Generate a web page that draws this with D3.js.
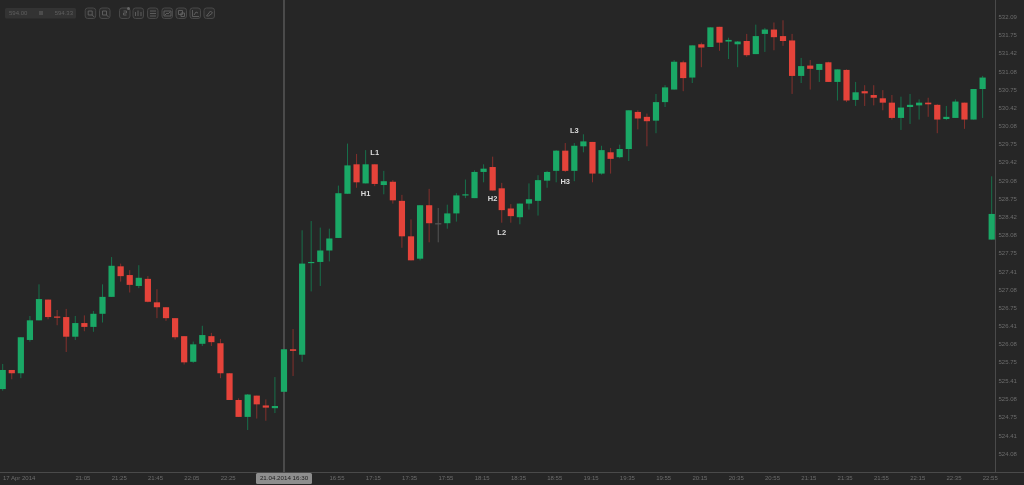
<!DOCTYPE html>
<html><head><meta charset="utf-8">
<style>
html,body{margin:0;padding:0;background:#262626;overflow:hidden}
svg{display:block;filter:blur(0.4px)}
text{font-family:"Liberation Sans",Arial,sans-serif}
</style>
<script src="https://cdn.jsdelivr.net/npm/d3@7"></script>
</head><body><svg id="c" width="1024" height="485"></svg>
<script>
const openP=[525.27,525.62,525.56,526.17,526.53,526.91,526.60,526.59,526.23,526.48,526.41,526.65,526.96,527.52,527.36,527.16,527.29,526.86,526.77,526.57,526.24,525.77,526.10,526.24,526.11,525.56,525.07,524.76,525.15,524.97,524.92,525.22,526.00,525.90,527.58,527.60,527.81,528.04,528.85,529.39,529.04,529.39,529.01,529.07,528.72,528.07,527.66,528.64,528.31,528.31,528.49,528.82,528.77,529.25,529.34,528.95,528.58,528.42,528.67,528.72,529.09,529.27,529.64,529.27,529.72,529.80,529.22,529.61,529.52,529.67,530.35,530.26,530.19,530.53,530.76,531.26,530.98,531.59,531.54,531.91,531.64,531.59,531.65,531.41,531.78,531.86,531.74,531.66,531.01,531.20,531.12,531.26,530.90,531.12,530.57,530.73,530.66,530.60,530.52,530.24,530.44,530.47,530.52,530.48,530.22,530.24,530.52,530.21,530.77,528.01];
const closeP=[525.62,525.56,526.22,526.53,526.92,526.59,526.59,526.23,526.48,526.41,526.65,526.96,527.53,527.34,527.18,527.31,526.87,526.77,526.57,526.22,525.76,526.09,526.26,526.13,525.56,525.07,524.76,525.17,524.99,524.93,524.96,526.00,525.97,527.57,527.60,527.81,528.03,528.86,529.37,529.06,529.39,529.03,529.08,528.73,528.07,527.63,528.64,528.31,528.31,528.49,528.82,528.84,529.25,529.31,528.91,528.55,528.44,528.67,528.75,529.10,529.25,529.64,529.27,529.73,529.81,529.22,529.65,529.49,529.67,530.38,530.23,530.18,530.53,530.80,531.27,530.97,531.57,531.53,531.90,531.62,531.67,531.64,531.39,531.74,531.86,531.72,531.65,531.01,531.19,531.14,531.23,530.90,531.13,530.56,530.71,530.69,530.61,530.52,530.24,530.43,530.48,530.52,530.49,530.21,530.26,530.54,530.21,530.77,530.98,528.48];
const highP=[525.73,525.62,526.22,526.61,527.19,526.91,526.72,526.74,526.61,526.62,526.70,527.19,527.69,527.57,527.45,527.54,527.34,527.10,526.77,526.57,526.24,526.14,526.43,526.30,526.19,525.56,525.10,525.18,525.15,525.08,525.49,526.00,526.37,528.18,528.35,528.23,528.21,529.00,529.77,529.58,529.65,529.39,529.27,529.10,528.83,528.38,528.64,528.94,528.59,528.65,528.86,529.11,529.28,529.39,529.53,529.05,528.66,528.67,529.04,529.19,529.27,529.65,529.78,529.78,529.94,529.80,529.73,529.69,529.75,530.38,530.38,530.32,530.68,530.84,531.30,531.29,531.57,531.62,531.90,531.91,531.71,531.65,531.78,531.95,531.89,531.99,532.03,531.78,531.34,531.30,531.23,531.27,531.13,531.13,530.90,530.84,530.84,530.75,530.66,530.63,530.68,530.58,530.61,530.49,530.46,530.58,530.52,530.77,531.01,529.17];
const lowP=[525.24,525.45,525.47,526.14,526.53,526.55,526.44,525.95,526.17,526.33,526.32,526.49,526.96,527.24,527.04,527.12,526.86,526.57,526.52,526.18,525.72,525.75,526.06,526.06,525.47,525.07,524.76,524.52,524.73,524.69,524.83,525.22,525.51,525.77,527.06,527.16,527.61,528.04,528.85,528.96,529.04,528.99,528.84,528.67,527.86,527.63,527.63,527.96,527.96,528.21,528.34,528.77,528.77,529.06,528.91,528.32,528.32,528.29,528.56,528.45,528.96,529.06,529.25,529.08,529.61,529.06,529.20,529.22,529.50,529.45,530.03,529.72,529.96,530.44,530.76,530.73,530.88,531.17,531.54,531.47,531.32,531.17,531.36,531.41,531.45,531.48,531.56,530.68,530.88,530.76,530.90,530.90,530.56,530.53,530.46,530.46,530.47,530.38,530.21,530.02,530.13,530.21,530.26,529.96,530.20,530.24,530.04,530.21,530.24,528.01];
const priceTicks=["532.09","531.75","531.42","531.08","530.75","530.42","530.08","529.75","529.42","529.08","528.75","528.42","528.08","527.75","527.41","527.08","526.75","526.41","526.08","525.75","525.41","525.08","524.75","524.41","524.08"];
const timeTickIndex=[9,13,17,21,25,37,41,45,49,53,57,61,65,69,73,77,81,85,89,93,97,101,105,109];
const timeTickLabel=["21:05","21:25","21:45","22:05","22:25","16:55","17:15","17:35","17:55","18:15","18:35","18:55","19:15","19:35","19:55","20:15","20:35","20:55","21:15","21:35","21:55","22:15","22:35","22:55"];
const annIndex=[41,40,55,54,62,63];
const annPrice=[529.60,528.85,528.13,528.75,529.06,530.00];
const annLabel=["L1","H1","L2","H2","H3","L3"];
const annColor="#dcdcdc";
const crossLabel="21.04.2014 16:30";
const firstDate="17 Apr 2014";
const rangeLabels=["594.00","594.33"];

const svg=d3.select("#c");
const x=d3.scaleLinear().domain([0,openP.length-1]).range([2.7,991.7]);
const y=d3.scaleLinear().domain([524.08,532.09]).range([454,17]);
const col=i=>closeP[i]>openP[i]?"g":closeP[i]<openP[i]?"r":"n";
const body={g:"#1aa866",r:"#e5433a",n:"#555555"}, wick={g:"#17704b",r:"#84302c",n:"#555555"};
const idx=d3.range(openP.length);

svg.append("rect").attr("width",1024).attr("height",485).attr("fill","#262626");

// crosshair
svg.append("line").attr("x1",284).attr("x2",284).attr("y1",0).attr("y2",472).attr("stroke","#555").attr("stroke-width",1.6);

// wicks and bodies
svg.append("g").selectAll("line").data(idx).join("line")
 .attr("x1",i=>x(i)).attr("x2",i=>x(i))
 .attr("y1",i=>y(highP[i])).attr("y2",i=>y(lowP[i]))
 .attr("stroke",i=>wick[col(i)]).attr("stroke-width",1);
svg.append("g").selectAll("rect").data(idx).join("rect")
 .attr("x",i=>x(i)-3.1).attr("width",6.2)
 .attr("y",i=>y(Math.max(openP[i],closeP[i])))
 .attr("height",i=>Math.max(1.2,Math.abs(y(openP[i])-y(closeP[i]))))
 .attr("fill",i=>body[col(i)]);

// annotations
svg.append("g").selectAll("text").data(annLabel).join("text")
 .attr("x",(d,i)=>x(annIndex[i])).attr("y",(d,i)=>y(annPrice[i]))
 .attr("text-anchor","middle").attr("dominant-baseline","middle")
 .attr("font-size",7.5).attr("font-weight","bold").attr("fill",annColor).text(d=>d);

// axes lines
svg.append("line").attr("x1",995.5).attr("x2",995.5).attr("y1",0).attr("y2",472).attr("stroke","#4a4a4a");
svg.append("line").attr("x1",0).attr("x2",1024).attr("y1",472.5).attr("y2",472.5).attr("stroke","#4a4a4a");

// price labels
svg.append("g").selectAll("text").data(priceTicks).join("text")
 .attr("x",998.5).attr("y",d=>y(+d)).attr("dominant-baseline","middle")
 .attr("font-size",6).attr("fill","#6c6c6c").text(d=>d);

// time labels
svg.append("g").selectAll("text").data(timeTickLabel).join("text")
 .attr("x",(d,i)=>x(timeTickIndex[i])-1.4).attr("y",478.5).attr("text-anchor","middle")
 .attr("dominant-baseline","middle").attr("font-size",6).attr("fill","#6c6c6c").text(d=>d);
svg.append("text").attr("x",3).attr("y",478.5).attr("dominant-baseline","middle")
 .attr("font-size",6).attr("fill","#6c6c6c").text(firstDate);

// crosshair label
svg.append("rect").attr("x",256).attr("y",473).attr("width",56).attr("height",11).attr("rx",1.5).attr("fill","#8e8e8e");
svg.append("text").attr("x",284).attr("y",478.7).attr("text-anchor","middle").attr("dominant-baseline","middle")
 .attr("font-size",6.2).attr("fill","#1e1e1e").text(crossLabel);

// toolbar
const tb=svg.append("g");
tb.append("rect").attr("x",5).attr("y",8).attr("width",71).attr("height",10.5).attr("rx",1.5).attr("fill","#333");
tb.append("text").attr("x",9).attr("y",13.5).attr("dominant-baseline","middle").attr("font-size",6).attr("fill","#5f5f5f").text(rangeLabels[0]);
tb.append("rect").attr("x",39).attr("y",11).attr("width",4).attr("height",4).attr("fill","#4c4c4c");
tb.append("text").attr("x",73).attr("y",13.5).attr("text-anchor","end").attr("dominant-baseline","middle").attr("font-size",6).attr("fill","#5f5f5f").text(rangeLabels[1]);
const btnX=[85.2,99.5,119.5,133,147.5,162,176,190,204];
const btn=tb.selectAll("g").data(btnX).join("g").attr("transform",d=>`translate(${d},8)`);
btn.append("rect").attr("width",10.5).attr("height",10.5).attr("rx",2.5).attr("fill","#2c2c2c").attr("stroke","#484848");
const glyph=["M3 3h4v4h-4zM7 7l2 2","M3 3h4v4h-4zM7 7l2 2","M4 3h3v2h-3v2h3","M2.500 8V4M5 8V2.500M8 8V4","M2.500 3h6M2.500 5.500h6M2.500 8h6","M2 3h7v5h-7zM3 7l2-2 1 1 2-2","M2.500 2.500h4v4h-4zM5 5h3.500v3.500h-3.500z","M2.500 2v6.500h6.500M4 7l2-3 2 1","M2.500 8l4-5 2 2-4 3z"];
btn.append("path").attr("d",(d,i)=>glyph[i]).attr("fill","none").attr("stroke","#626262").attr("stroke-width",.9);
tb.append("circle").attr("cx",128.500).attr("cy",8.500).attr("r",1.500).attr("fill","#666");
</script></body></html>
